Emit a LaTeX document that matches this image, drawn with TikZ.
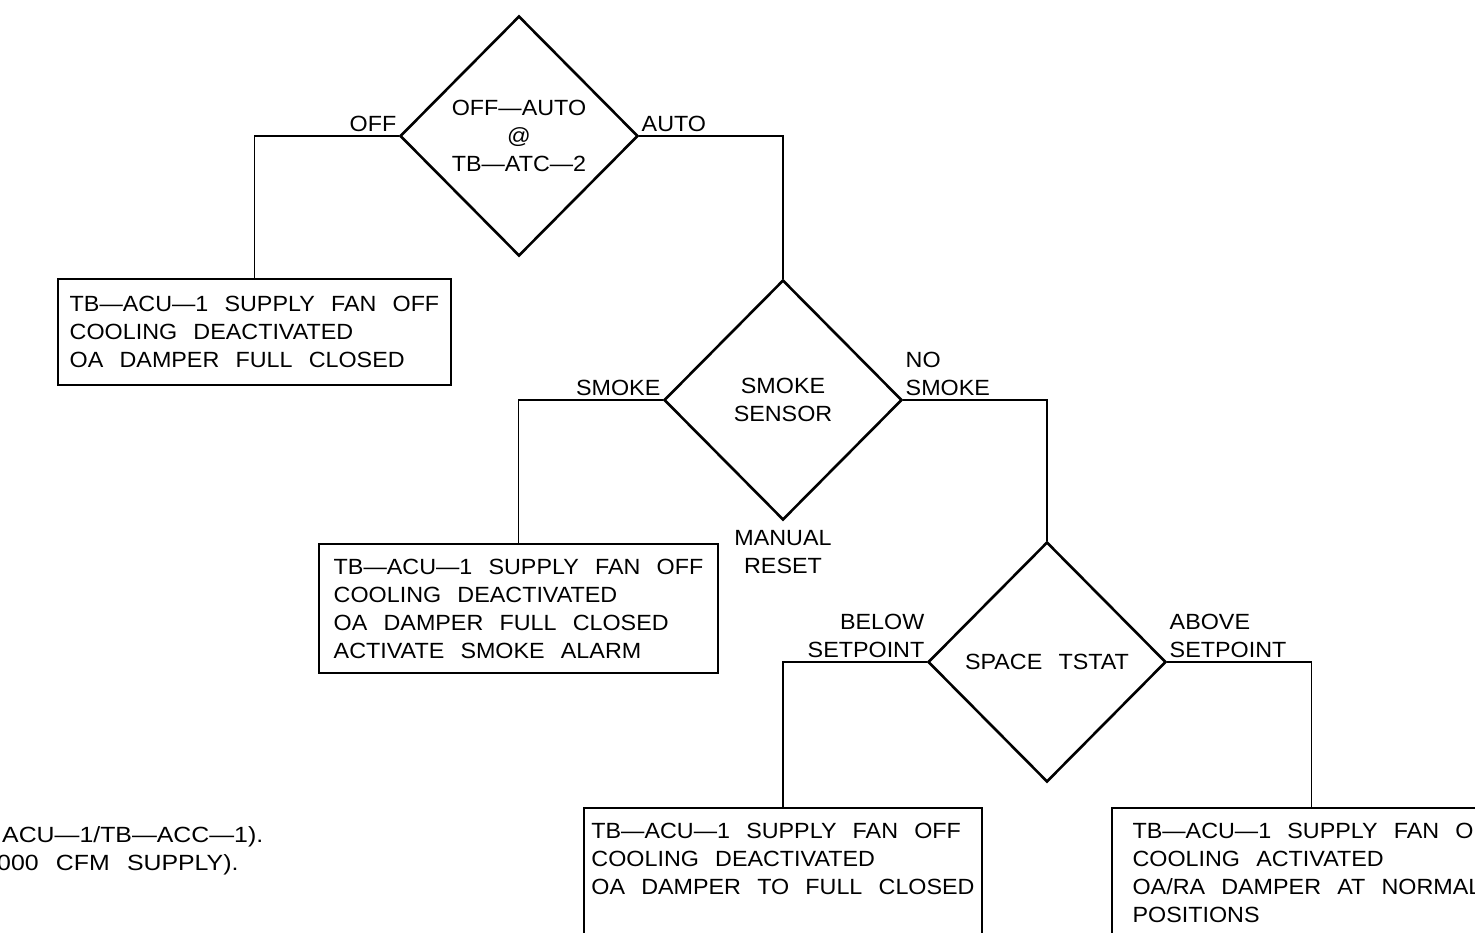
\documentclass[tikz,border=0pt]{standalone}
\usepackage{fontspec}
\setmainfont[WordSpace=2.5,FakeStretch=1.06]{Liberation Sans}
\usepackage{tikz}
\usetikzlibrary{shapes}

\begin{document}
\begin{tikzpicture}[x=1pt, y=-1pt, font=\fontsize{22}{28}\selectfont]

\tikzset{decision/.style = {shape=diamond,draw,line width=2.6pt,aspect=1,minimum width=238pt,minimum height=240pt,inner sep=0pt,align=center}}
\tikzset{action/.style = {shape=rectangle,draw,line width=2.6pt,inner sep=0pt,align=left}}
\tikzset{edge/.style = {line width=1.8pt}}
\tikzset{tag/.style = {inner xsep=1.5pt,inner ysep=3pt}}
\tikzset{note/.style = {anchor=west,inner sep=0pt,font=\fontsize{22}{28}\selectfont\addfontfeature{FakeStretch=1.13}}}
\useasboundingbox (0,0) rectangle (1475,932);
\clip (0,0) rectangle (1475,932);
% vertices
\node[decision] (mode) at (519,136) {OFF—AUTO\\@\\TB—ATC—2};
\node[decision] (smoke) at (783,400) {SMOKE\\SENSOR};
\node[decision] (tstat) at (1047,662) {SPACE TSTAT};
\node[action,minimum width=393pt,minimum height=106pt] (offbox) at (254.5,332) {TB—ACU—1 SUPPLY FAN OFF\\COOLING DEACTIVATED\\OA DAMPER FULL CLOSED};
\node[action,minimum width=399pt,minimum height=129pt] (alarmbox) at (518.5,608.5) {TB—ACU—1 SUPPLY FAN OFF\\COOLING DEACTIVATED\\OA DAMPER FULL CLOSED\\ACTIVATE SMOKE ALARM};
\node[action,minimum width=398pt,minimum height=129pt] (idlebox) at (783,872.5) {TB—ACU—1 SUPPLY FAN OFF\\COOLING DEACTIVATED\\OA DAMPER TO FULL CLOSED\\~};
\node[action,minimum width=399pt,minimum height=129pt] (coolbox) at (1311.5,872.5) {TB—ACU—1 SUPPLY FAN ON\\COOLING ACTIVATED\\OA/RA DAMPER AT NORMAL\\POSITIONS};
\node[anchor=north,align=center,inner sep=0pt] (reset) at ([yshift=-9pt]smoke.south) {MANUAL\\RESET};
\node[note] (note1) at (2,837) {ACU—1/TB—ACC—1).};
\node[note] (note2) at (-3,865) {000 CFM SUPPLY).};
%edges
\draw[edge] (mode.west) -| node[tag,pos=0,anchor=south east] (off) {OFF} (offbox.north);
\draw[edge] (mode.east) -| node[tag,pos=0,anchor=south west] (auto) {AUTO} (smoke.north);
\draw[edge] (smoke.west) -| node[tag,pos=0,anchor=south east] (smk) {SMOKE} (alarmbox.north);
\draw[edge] (smoke.east) -| node[tag,pos=0,anchor=south west,align=left] (nosmk) {NO\\SMOKE} (tstat.north);
\draw[edge] (tstat.west) -| node[tag,pos=0,anchor=south east,align=right] (below) {BELOW\\SETPOINT} (idlebox.north);
\draw[edge] (tstat.east) -| node[tag,pos=0,anchor=south west,align=left] (above) {ABOVE\\SETPOINT} (coolbox.north);
\end{tikzpicture}
\end{document}
